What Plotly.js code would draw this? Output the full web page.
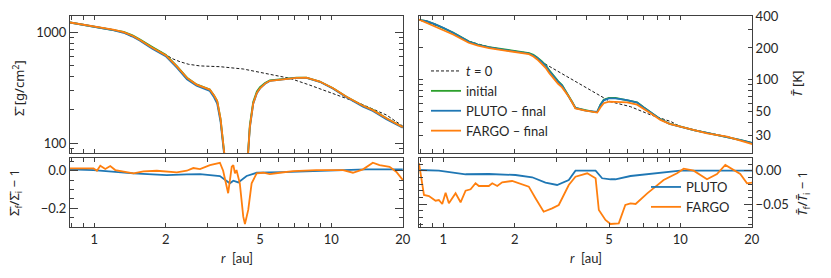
<!DOCTYPE html>
<html>
<head>
<meta charset="utf-8">
<script src="https://cdn.plot.ly/plotly-3.0.1.min.js"></script>
<style>html,body{margin:0;padding:0;background:#fff;}#plot{width:831px;height:278px;}</style>
</head>
<body>
<div id="plot"></div>
<script>
// ---------- data: surface density (top left) ----------
const r_sig = [0.79, 0.85, 0.92, 1.0, 1.1, 1.2, 1.33, 1.45, 1.56, 1.75, 2.0, 2.23, 2.46, 2.7, 2.9, 3.07, 3.2, 3.3, 3.41, 3.48, 3.55, 3.65, 3.8, 4.0, 4.2, 4.35, 4.46, 4.53, 4.68, 4.85, 5.0, 5.25, 5.5, 6.26, 7.13, 7.85, 8.93, 10.17, 11.58, 13.6, 14.96, 17.06, 20.0];
const sig_init  = [1225, 1192, 1157, 1124, 1093, 1062, 1010, 938, 862, 740, 628, 495, 390, 339, 320, 305, 270, 240, 165, 110, 60, 25, 10, 7, 12, 42, 85, 146, 236, 293, 320, 350, 369, 382, 390, 390, 360, 313, 263, 218, 200, 168, 140];
const sig_pluto = [1225, 1188, 1150, 1115, 1082, 1048, 990, 915, 838, 715, 610, 480, 378, 330, 312, 296, 260, 228, 155, 105, 58, 24, 10, 7, 12, 38, 80, 138, 226, 283, 312, 344, 365, 379, 388, 389, 358, 310, 260, 214, 196, 165, 138];
const sig_fargo = [1225, 1190, 1155, 1122, 1090, 1058, 1005, 930, 853, 730, 622, 492, 388, 338, 320, 305, 270, 240, 165, 110, 60, 25, 10, 7, 12, 40, 82, 141, 229, 285, 313, 345, 366, 380, 389, 390, 360, 313, 263, 218, 199, 168, 140];
const r_sig0 = [0.79, 1.0, 1.2, 1.33, 1.56, 1.8, 2.0, 2.15, 2.3, 2.5, 2.79, 3.39, 4.25, 5.33, 6.68, 8.09, 10.17, 13.18, 17.06, 20.0];
const sig_t0 = [1225, 1122, 1055, 990, 850, 715, 625, 575, 543, 515, 498, 490, 467, 421, 385, 335, 282, 229, 180, 143];

// ---------- data: temperature (top right) ----------
const r_T = [0.79, 0.85, 0.92, 1.0, 1.1, 1.28, 1.4, 1.56, 1.83, 2.1, 2.3, 2.4, 2.49, 2.6, 2.7, 2.8, 2.93, 3.05, 3.17, 3.38, 3.5, 3.61, 3.98, 4.3, 4.46, 4.6, 4.75, 5.0, 5.32, 5.96, 6.57, 7.0, 7.6, 8.24, 9.0, 10.0, 11.5, 12.96, 15.73, 18.0, 20.1];
const T_init  = [368, 358, 335, 310, 279, 231, 215, 204, 192, 183, 179, 172, 163, 150, 138, 123, 108, 97.5, 89.5, 71.6, 62, 54.5, 51.5, 50, 50, 58.5, 65, 67.9, 67.9, 65, 61.6, 55.2, 48.8, 42.7, 38.7, 36.3, 33.5, 31.8, 29.2, 27.1, 25.4];
const T_pluto = [368, 358, 335, 310, 278, 230, 214, 203, 191, 182, 177, 170, 161, 148, 136, 121, 106, 96, 88.5, 70.6, 61.8, 54.5, 51.5, 50, 50, 58, 64.2, 67, 67, 64.5, 61.2, 54.9, 48.6, 42.6, 38.6, 36.3, 33.5, 31.8, 29.2, 27.1, 25.4];
const T_fargo = [370, 345, 320, 296, 268, 224, 210, 199, 189, 180, 175, 166, 156, 142, 130, 116, 102, 92, 85, 70, 61, 54, 51.3, 49.6, 49.2, 55, 60.3, 62.5, 62.5, 61.5, 58.5, 53, 47.5, 42, 38.5, 36.3, 33.5, 31.4, 29.2, 27, 24.9];
const r_T0 = [0.79, 1.0, 1.28, 1.56, 1.83, 2.3, 2.53, 4.83, 5.07, 6.16, 7.5, 9.13, 10.0, 12.96, 15.73, 20.1];
const T_t0 = [368, 310, 231, 204, 192, 179, 153, 66.2, 62.4, 56, 46.8, 40.5, 36.3, 31.8, 29.2, 25.4];

// ---------- data: relative surface density change (bottom left) ----------
const r_dS_pluto = [0.79, 0.993, 1.463, 2.022, 2.456, 2.792, 3.388, 3.73, 3.86, 4.05, 4.39, 4.84, 6.26, 10.17, 14.0, 20.0];
const dS_pluto = [0.0074, 0.0037, -0.0138, -0.0229, -0.019, -0.0176, -0.028, -0.067, -0.053, -0.062, -0.028, -0.0106, -0.007, 0.0037, 0.0074, 0.0074];
const r_dS_fargo = [0.79, 0.993, 1.026, 1.06, 1.113, 1.168, 1.226, 1.329, 1.463, 1.612, 1.835, 2.229, 2.456, 2.617, 2.792, 3.074, 3.388, 3.496, 3.67, 3.80, 3.86, 3.92, 3.98, 4.11, 4.25, 4.32, 4.46, 4.61, 4.84, 5.16, 5.50, 6.06, 6.90, 8.64, 11.2, 12.33, 13.6, 14.96, 15.96, 17.6, 18.77, 20.0];
const dS_fargo = [0.0128, 0.0128, 0.0, 0.0266, 0.009, 0.025, 0.0037, -0.0053, -0.0138, -0.0032, 0.0, -0.0085, 0.0, 0.0144, 0.009, 0.03, 0.0426, 0.0, -0.12, 0.0213, 0.0303, -0.0138, 0.0037, -0.067, -0.245, -0.284, -0.209, -0.067, -0.0138, -0.0106, -0.0176, -0.0106, -0.0016, 0.0037, 0.0037, -0.0106, 0.0074, 0.0426, 0.0303, 0.0213, -0.0053, -0.049];

// ---------- data: relative temperature change (bottom right) ----------
const r_dT_pluto = [0.79, 0.958, 1.242, 1.556, 2.017, 2.371, 2.698, 3.021, 3.383, 3.61, 4.39, 4.677, 5.074, 5.322, 6.163, 7.48, 10.0, 20.1];
const dT_pluto = [0.001, 0.0, -0.0054, -0.005, -0.0065, -0.0099, -0.018, -0.0215, -0.014, 0.0, 0.0, -0.0114, -0.0129, -0.0129, -0.008, -0.005, 0.0, 0.0];
const r_dT_fargo = [0.79, 0.829, 0.870, 0.928, 0.958, 0.990, 1.023, 1.056, 1.127, 1.183, 1.242, 1.304, 1.368, 1.413, 1.556, 1.609, 1.689, 1.772, 1.952, 2.083, 2.295, 2.449, 2.651, 2.878, 3.070, 3.383, 3.610, 4.048, 4.390, 4.530, 4.831, 5.074, 5.322, 5.498, 5.859, 6.163, 6.475, 7.25, 8.50, 9.68, 10.33, 11.38, 12.95, 14.27, 15.47, 16.77, 17.89, 19.1, 20.1];
const dT_fargo = [0.0111, -0.0365, -0.038, -0.045, -0.044, -0.050, -0.033, -0.049, -0.034, -0.0474, -0.030, -0.028, -0.0189, -0.023, -0.023, -0.0189, -0.023, -0.0174, -0.0155, -0.0189, -0.024, -0.0414, -0.0616, -0.0565, -0.0515, -0.0215, -0.009, -0.0039, -0.0114, -0.059, -0.074, -0.080, -0.079, -0.079, -0.0515, -0.049, -0.050, -0.034, -0.014, -0.0039, 0.003, 0.0, -0.0129, -0.005, 0.0086, 0.001, -0.005, -0.0189, -0.018];

// ---------- tick labels ----------
const r_tickvals = [1, 2, 5, 10, 20];
const r_ticktext = ['1', '2', '5', '10', '20'];
const r_minor = [0.8, 0.9, 3, 4, 6, 7, 8, 9];
const r_major = [1, 10];
const sig_tickvals = [100, 1000];
const sig_ticktext = ['100', '1000'];
const sig_minor = [90, 200, 300, 400, 500, 600, 700, 800, 900];
const T_tickvals = [30, 50, 100, 200, 400];
const T_ticktext = ['30', '50', '100', '200', '400'];
const T_minor = [40, 60, 70, 80, 90, 300];
const T_major = [100];

const BLUE = '#1f77b4', ORANGE = '#ff7f0e', GREEN = '#2ca02c';
const AX = '#404040';
const FONT = 'Lato, "Liberation Sans", sans-serif';
const LW = 1.8;

const traces = [
  {x: r_sig0, y: sig_t0, xaxis: 'x', yaxis: 'y', mode: 'lines', name: '<i>t</i> = 0', legend: 'legend',
   line: {color: '#000', width: 0.9, dash: '3px,2px'}},
  {x: r_sig, y: sig_init, xaxis: 'x', yaxis: 'y', mode: 'lines', name: 'initial', legend: 'legend',
   line: {color: GREEN, width: LW}},
  {x: r_sig, y: sig_pluto, xaxis: 'x', yaxis: 'y', mode: 'lines', name: 'PLUTO – final', legend: 'legend',
   line: {color: BLUE, width: LW}},
  {x: r_sig, y: sig_fargo, xaxis: 'x', yaxis: 'y', mode: 'lines', name: 'FARGO – final', legend: 'legend',
   line: {color: ORANGE, width: LW}},

  {x: r_T0, y: T_t0, xaxis: 'x2', yaxis: 'y2', mode: 'lines', showlegend: false,
   line: {color: '#000', width: 0.9, dash: '3px,2px'}},
  {x: r_T, y: T_init, xaxis: 'x2', yaxis: 'y2', mode: 'lines', showlegend: false, line: {color: GREEN, width: LW}},
  {x: r_T, y: T_pluto, xaxis: 'x2', yaxis: 'y2', mode: 'lines', showlegend: false, line: {color: BLUE, width: LW}},
  {x: r_T, y: T_fargo, xaxis: 'x2', yaxis: 'y2', mode: 'lines', showlegend: false, line: {color: ORANGE, width: LW}},

  {x: r_dS_pluto, y: dS_pluto, xaxis: 'x3', yaxis: 'y3', mode: 'lines', showlegend: false, line: {color: BLUE, width: LW}},
  {x: r_dS_fargo, y: dS_fargo, xaxis: 'x3', yaxis: 'y3', mode: 'lines', showlegend: false, line: {color: ORANGE, width: LW}},

  {x: r_dT_pluto, y: dT_pluto, xaxis: 'x4', yaxis: 'y4', mode: 'lines', name: 'PLUTO', legend: 'legend2', line: {color: BLUE, width: LW}},
  {x: r_dT_fargo, y: dT_fargo, xaxis: 'x4', yaxis: 'y4', mode: 'lines', name: 'FARGO', legend: 'legend2', line: {color: ORANGE, width: LW}}
];

const W = 831, H = 278;
const px = v => v / W, py = v => 1 - v / H;
const xRange = [Math.log10(0.79), Math.log10(20.05)];

function baseAxis(extra) {
  return Object.assign({
    showline: true, linecolor: AX, linewidth: 1, mirror: 'allticks',
    ticks: 'inside', ticklen: 4, tickwidth: 1, tickcolor: AX,
    showgrid: false, zeroline: false, fixedrange: true,
    tickfont: {family: FONT, size: 13, color: '#262626'}
  }, extra);
}
function rAxis(domain, anchor, labels) {
  return baseAxis({type: 'log', range: xRange, domain: domain, anchor: anchor,
    tickmode: 'array', tickvals: r_tickvals, ticktext: r_ticktext, showticklabels: labels,
    minor: {tickmode: 'array', tickvals: r_minor, ticks: 'inside', ticklen: 4, tickcolor: AX, showgrid: false}});
}
function rOverlay(over, anchor) {
  return {type: 'log', range: xRange, overlaying: over, anchor: anchor, showline: false, mirror: 'allticks',
    ticks: 'inside', ticklen: 8, tickwidth: 1, tickcolor: AX, tickmode: 'array', tickvals: r_major,
    showticklabels: false, showgrid: false, zeroline: false, fixedrange: true};
}

const dL = [px(70), px(403)], dR = [px(419), px(752)];
const dTop = [py(153), py(16)], dBot = [py(227), py(158)];
const tf = {family: FONT, size: 13, color: '#262626'};
const lf = {family: '"Noto Sans", Lato, sans-serif', size: 13, color: '#262626'};

const layout = {
  width: W, height: H,
  margin: {l: 0, r: 0, t: 0, b: 0, pad: 0},
  paper_bgcolor: '#fff', plot_bgcolor: '#fff',
  font: tf,
  xaxis: rAxis(dL, 'y', false),
  xaxis2: rAxis(dR, 'y2', false),
  xaxis3: rAxis(dL, 'y3', true),
  xaxis4: rAxis(dR, 'y4', true),
  xaxis5: rOverlay('x', 'y'),
  xaxis6: rOverlay('x2', 'y2'),
  xaxis7: rOverlay('x3', 'y3'),
  xaxis8: rOverlay('x4', 'y4'),
  yaxis: baseAxis({type: 'log', range: [Math.log10(81.8), Math.log10(1402)], domain: dTop, anchor: 'x',
    tickmode: 'array', tickvals: sig_tickvals, ticktext: sig_ticktext, ticklen: 8,
    minor: {tickmode: 'array', tickvals: sig_minor, ticks: 'inside', ticklen: 4, tickcolor: AX, showgrid: false}}),
  yaxis2: baseAxis({type: 'log', range: [Math.log10(20.5), Math.log10(400)], domain: dTop, anchor: 'x2', side: 'right',
    tickmode: 'array', tickvals: T_tickvals, ticktext: T_ticktext,
    minor: {tickmode: 'array', tickvals: T_minor, ticks: 'inside', ticklen: 4, tickcolor: AX, showgrid: false}}),
  yaxis5: {type: 'log', range: [Math.log10(20.5), Math.log10(400)], overlaying: 'y2', anchor: 'x2', side: 'right',
    showline: false, mirror: 'allticks', ticks: 'inside', ticklen: 8, tickwidth: 1, tickcolor: AX,
    tickmode: 'array', tickvals: T_major, showticklabels: false, showgrid: false, zeroline: false, fixedrange: true},
  yaxis3: baseAxis({range: [-0.30, 0.068], domain: dBot, anchor: 'x3', tickmode: 'linear', tick0: 0, dtick: 0.2,
    tickformat: '.1f', ticklen: 8,
    minor: {tickmode: 'linear', tick0: 0, dtick: 0.05, ticks: 'inside', ticklen: 4, tickcolor: AX, showgrid: false}}),
  yaxis4: baseAxis({range: [-0.0845, 0.019], domain: dBot, anchor: 'x4', side: 'right', tickmode: 'linear', tick0: 0, dtick: 0.05,
    tickformat: '.2f', ticklen: 8,
    minor: {tickmode: 'linear', tick0: 0, dtick: 0.01, ticks: 'inside', ticklen: 4, tickcolor: AX, showgrid: false}}),
  showlegend: true,
  legend: {x: px(426), y: py(56), xanchor: 'left', yanchor: 'top', bgcolor: 'rgba(0,0,0,0)', borderwidth: 0,
    font: tf, tracegroupgap: 0},
  legend2: {x: px(646), y: py(172), xanchor: 'left', yanchor: 'top', bgcolor: 'rgba(0,0,0,0)', borderwidth: 0,
    font: tf, tracegroupgap: 0},
  annotations: [
    {text: 'Σ̄ [g/cm<sup>2</sup>]', x: px(18), y: py(88), xref: 'paper', yref: 'paper', textangle: -90,
     showarrow: false, xanchor: 'center', yanchor: 'middle', font: lf},
    {text: 'Σ̄<sub>f</sub>/Σ̄<sub>i</sub> − 1', x: px(15), y: py(193), xref: 'paper', yref: 'paper', textangle: -90,
     showarrow: false, xanchor: 'center', yanchor: 'middle', font: lf},
    {text: '<i>T̄</i> [K]', x: px(797), y: py(84), xref: 'paper', yref: 'paper', textangle: -90,
     showarrow: false, xanchor: 'center', yanchor: 'middle', font: lf},
    {text: '<i>T̄</i><sub>f</sub>/<i>T̄</i><sub>i</sub> − 1', x: px(803), y: py(194), xref: 'paper', yref: 'paper', textangle: -90,
     showarrow: false, xanchor: 'center', yanchor: 'middle', font: lf},
    {text: '<i>r</i>  [au]', x: px(236.5), y: py(258), xref: 'paper', yref: 'paper',
     showarrow: false, xanchor: 'center', yanchor: 'middle', font: tf},
    {text: '<i>r</i>  [au]', x: px(585.5), y: py(258), xref: 'paper', yref: 'paper',
     showarrow: false, xanchor: 'center', yanchor: 'middle', font: tf}
  ]
};

Plotly.newPlot('plot', traces, layout, {staticPlot: true, displayModeBar: false});
</script>
</body>
</html>
